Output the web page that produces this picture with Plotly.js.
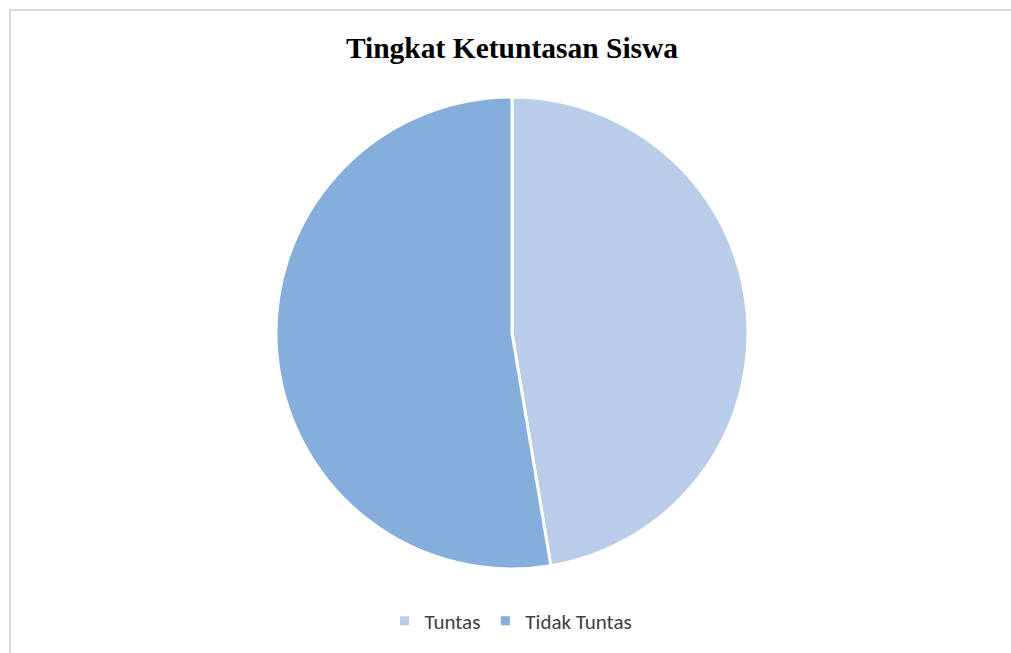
<!DOCTYPE html>
<html>
<head>
<meta charset="utf-8">
<script src="https://cdn.plot.ly/plotly-3.0.1.min.js"></script>
<style>
  html, body { margin: 0; padding: 0; background: #fff; }
  #wrap { position: relative; width: 1011px; height: 653px; overflow: hidden; }
  #frame { position: absolute; left: 9px; top: 9px; right: -5px; bottom: -5px; border-left: 2px solid #d9d9d9; border-top: 2px solid #d9d9d9; pointer-events: none; z-index: 5; }
  #chart { position: absolute; left: 0; top: 0; width: 1011px; height: 653px; }
</style>
</head>
<body>
<div id="wrap">
  <div id="chart"></div>
  <div id="frame"></div>
</div>
<script>
const categories = ["Tuntas", "Tidak Tuntas"];
const values = [9, 10];
const colors = ["#B9CDE8", "#85AEDC"];

const W = 1011, H = 653;
const data = [{
  type: "pie",
  labels: categories,
  values: values,
  sort: false,
  direction: "clockwise",
  rotation: 0,
  textinfo: "none",
  hoverinfo: "label+value+percent",
  marker: { colors: colors, line: { color: "#ffffff", width: 3 } },
  domain: { x: [276 / W, 748 / W], y: [1 - 569 / H, 1 - 97 / H] }
}];

const layout = {
  width: W, height: H,
  margin: { l: 0, r: 0, t: 0, b: 0 },
  paper_bgcolor: "#ffffff",
  title: {
    text: "<b>Tingkat Ketuntasan Siswa</b>",
    font: { family: "Liberation Serif, Times New Roman, serif", size: 29.5, color: "#000000" },
    x: 512 / W, xanchor: "center",
    y: 1 - 48 / H, yanchor: "middle", yref: "paper"
  },
  showlegend: true,
  legend: {
    orientation: "h",
    x: 511 / W, xanchor: "center",
    y: 1 - 621 / H, yanchor: "middle",
    font: { family: "Carlito, Open Sans, Noto Sans, sans-serif", size: 21, color: "#404040" },
    itemwidth: 30,
    traceorder: "normal"
  }
};

Plotly.newPlot("chart", data, layout, { displayModeBar: false, staticPlot: true });
</script>
</body>
</html>
